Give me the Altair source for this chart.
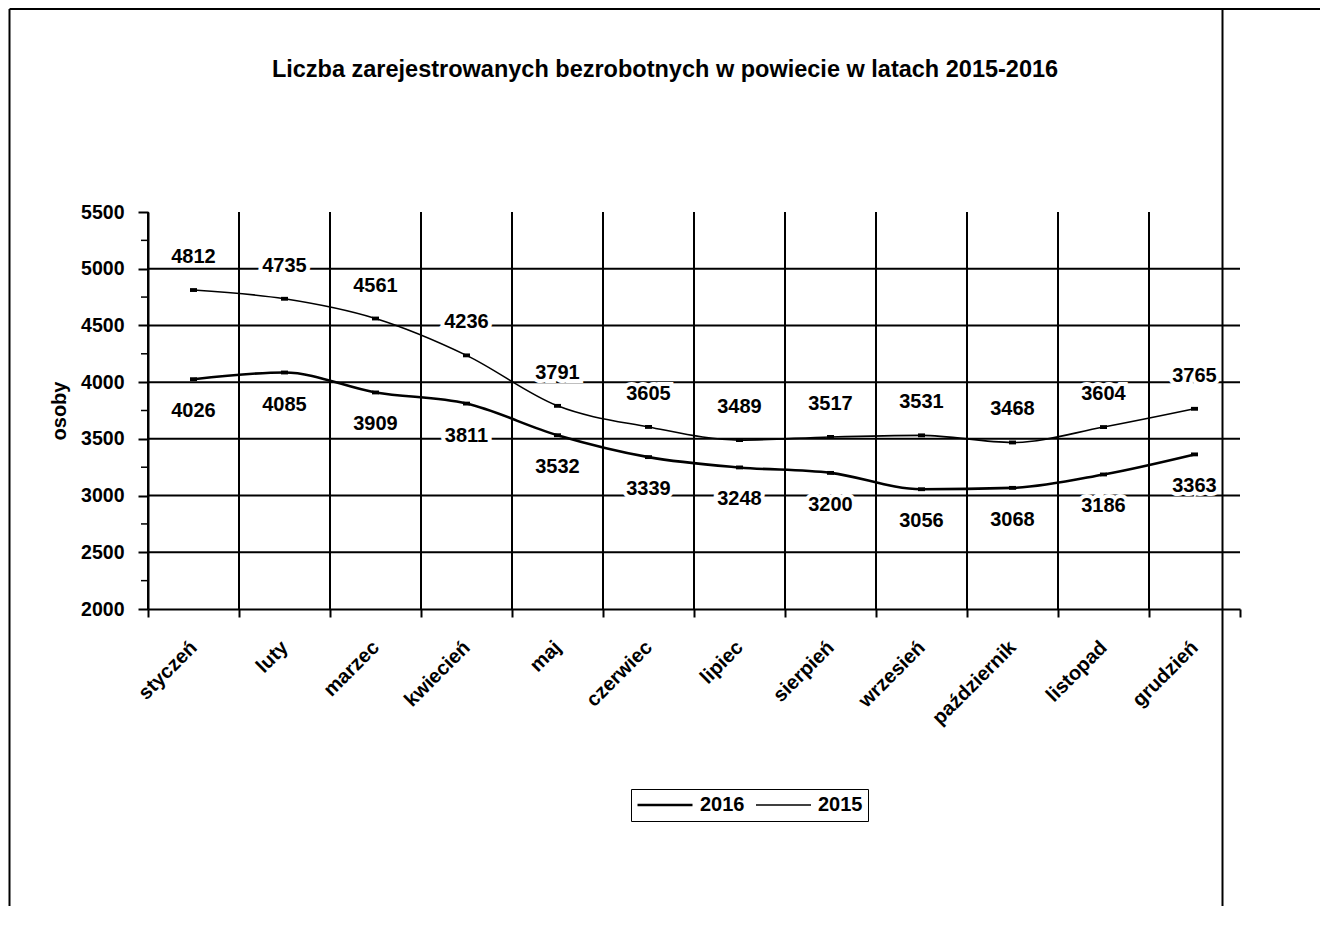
import altair as alt
import pandas as pd

months = ["styczeń", "luty", "marzec", "kwiecień", "maj", "czerwiec",
          "lipiec", "sierpień", "wrzesień", "październik", "listopad", "grudzień"]
values_2016 = [4026, 4085, 3909, 3811, 3532, 3339, 3248, 3200, 3056, 3068, 3186, 3363]
values_2015 = [4812, 4735, 4561, 4236, 3791, 3605, 3489, 3517, 3531, 3468, 3604, 3765]
series_names = ["2016", "2015"]
y_tick_values = [2000, 2500, 3000, 3500, 4000, 4500, 5000, 5500]
grid_values = [2500, 3000, 3500, 4000, 4500, 5000]
minor_tick_values = [2250, 2750, 3250, 3750, 4250, 4750, 5250]

title_text = "Liczba zarejestrowanych bezrobotnych w powiecie w latach 2015-2016"
y_title = "osoby"

FONT = "Liberation Sans"

rows = []
for name, vals in (("2016", values_2016), ("2015", values_2015)):
    for m, v in zip(months, vals):
        rows.append({"month": m, "value": v, "series": name})
df = pd.DataFrame(rows)
grid_df = pd.DataFrame({"value": grid_values})
vgrid_df = pd.DataFrame({"month": months})
minor_df = pd.DataFrame({"value": minor_tick_values})
frame_df = pd.DataFrame({"k": [0]})

W, H = 1092, 397

x_scale = alt.Scale(type="band", paddingInner=0, paddingOuter=0)
x_axis = alt.Axis(
    title=None, tickBand="extent", grid=False,
    domainColor="black", domainWidth=2, tickColor="black", tickWidth=2, tickSize=8,
    labelAngle=-45, labelAlign="right", labelBaseline="middle",
    labelPadding=27, labelOffset=0,
    labelFont=FONT, labelFontSize=20, labelFontWeight="bold", labelColor="black",
)
x_enc = alt.X("month:N", sort=months, bandPosition=0.5, scale=x_scale, axis=x_axis)
x_grid = alt.X("month:N", sort=months, bandPosition=0, scale=x_scale, axis=x_axis)

y_enc = alt.Y(
    "value:Q",
    scale=alt.Scale(domain=[2000, 5500], nice=False, zero=False),
    axis=alt.Axis(
        values=y_tick_values, grid=False, title=y_title, format="d",
        titleFont=FONT, titleFontSize=20, titleFontWeight="bold", titleColor="black",
        titlePadding=11,
        labelFont=FONT, labelFontSize=19.5, labelFontWeight="bold", labelColor="black",
        labelPadding=14, tickSize=10, tickWidth=2, tickColor="black",
        domainColor="black", domainWidth=2,
    ),
)

grid = alt.Chart(grid_df).mark_rule(color="black", strokeWidth=2).encode(y=y_enc)
vgrid = alt.Chart(vgrid_df).mark_rule(color="black", strokeWidth=2).encode(x=x_grid)
minor = alt.Chart(minor_df).mark_rule(color="black", strokeWidth=1.5).encode(
    y=y_enc, x=alt.value(-7), x2=alt.value(0))

lines = alt.Chart(df).mark_line(color="black", interpolate="monotone").encode(
    x=x_enc, y=y_enc, detail="series:N",
    strokeWidth=alt.StrokeWidth(
        "series:N",
        scale=alt.Scale(domain=series_names, range=[2.6, 1.6]),
        legend=alt.Legend(
            title=None, orient="none", legendX=483, legendY=577, direction="horizontal",
            symbolType="stroke", symbolSize=3025, symbolStrokeColor="black",
            clipHeight=22, labelFont=FONT, labelFontSize=20, labelFontWeight="bold",
            labelColor="black", labelOffset=6, columnPadding=10, padding=5,
            strokeColor="black",
        ),
    ),
)

points = alt.Chart(df).mark_point(
    shape="M-1,-0.55H1V0.55H-1Z", filled=True, color="black", size=49, opacity=1
).encode(x=x_enc, y=y_enc)

def label_layers(series, dy):
    base = alt.Chart(df).transform_filter(f"datum.series == '{series}'")
    halo = base.mark_text(
        dy=dy, font=FONT, fontSize=20, fontWeight="bold", fill="white",
        stroke="white", strokeWidth=8, baseline="middle", align="center"
    ).encode(x=x_enc, y=y_enc, text="value:Q")
    txt = base.mark_text(
        dy=dy, font=FONT, fontSize=20, fontWeight="bold", color="black",
        baseline="middle", align="center"
    ).encode(x=x_enc, y=y_enc, text="value:Q")
    return [halo, txt]

frame_base = alt.Chart(frame_df).mark_rule(color="black", strokeWidth=2)
frame_left = frame_base.encode(x=alt.value(-138.5), y=alt.value(-203), y2=alt.value(694))
frame_top = frame_base.encode(x=alt.value(-138.5), x2=alt.value(1172), y=alt.value(-203))
frame_right = frame_base.encode(x=alt.value(1074.5), y=alt.value(-203), y2=alt.value(694))

layers = [grid, vgrid, minor, lines, points] + label_layers("2015", -33) + \
    label_layers("2016", 32) + [frame_left, frame_top, frame_right]

chart = alt.layer(*layers).properties(
    width=W, height=H, padding=0,
    title=alt.TitleParams(
        text=title_text, font=FONT, fontSize=23.5, fontWeight="bold", color="black",
        anchor="middle", offset=-92, dx=-29, baseline="alphabetic",
    ),
).configure_view(strokeWidth=0)

chart.save("out.html", embed_options={"renderer": "svg", "actions": False})
